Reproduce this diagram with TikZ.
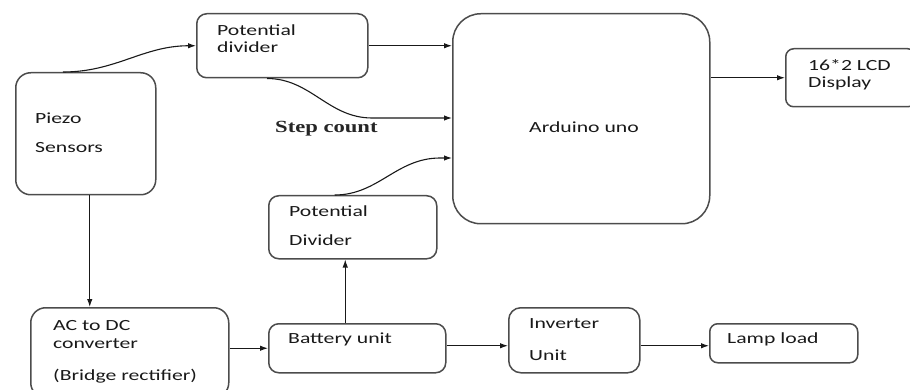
\documentclass[tikz,border=0pt]{standalone}
\usepackage{fontspec}
\setmainfont{Carlito}[FakeStretch=1.4]
\newfontfamily\stepfont{Liberation Serif}[FakeStretch=1.33]
\usepackage{tikz}
\usetikzlibrary{arrows,arrows.meta}

\begin{document}
\begin{tikzpicture}[>={Latex[length=8pt,width=5.5pt]}, x=1pt, y=-1pt,
	blk/.style={draw=black!70, line width=1.5pt, inner sep=0pt, anchor=north west},
	lbl/.style={anchor=base west, inner sep=0pt, align=left, text=black!90, font=\fontsize{15.5}{17.5}\selectfont},
	arr/.style={->, line width=1.1pt, black!90}]
%		\draw [help lines] (0,0) grid (910,390);
		\useasboundingbox (0,0) rectangle (910,390);
		%Blocchi
		\node [blk, rounded corners=10pt, minimum width=171pt, minimum height=64pt] (pdtop) at (196,13) {};
		\node [blk, rounded corners=15pt, minimum width=140pt, minimum height=122pt] (piezo) at (15,72) {};
		\node [blk, rounded corners=28pt, minimum width=257pt, minimum height=210pt] (arduino) at (452,13) {};
		\node [blk, rounded corners=8pt, minimum width=130pt, minimum height=58pt] (lcd) at (785,48) {};
		\node [blk, rounded corners=10pt, minimum width=168pt, minimum height=63pt] (pdlow) at (268,195) {};
		\node [blk, rounded corners=15pt, minimum width=198pt, minimum height=90pt] (acdc) at (30,307) {};
		\node [blk, rounded corners=10pt, minimum width=177pt, minimum height=49pt] (battery) at (268,323) {};
		\node [blk, rounded corners=12pt, minimum width=131pt, minimum height=65pt] (inverter) at (508,307) {};
		\node [blk, rounded corners=8pt, minimum width=148pt, minimum height=39pt] (lamp) at (709,323) {};
		%Testi (base = ultima riga)
		\node [lbl] (pdtoptxt) at (217,53) {Potential\\divider};
		\node [lbl] (piezotxt) at (35,153) {Piezo\\[11.5pt]Sensors};
		\node [lbl] (arduinotxt) at (529,133) {Arduino uno};
		\node [lbl] (lcdtxt) at (808,88) {16*2 LCD\\Display};
		\node [lbl] (pdlowtxt) at (289,245) {Potential\\[11.5pt]Divider};
		\node [lbl] (acdctxt) at (53,380) {AC to DC\\converter\\[14.5pt](Bridge rectifier)};
		\node [lbl] (batterytxt) at (288,343) {Battery unit};
		\node [lbl] (invertertxt) at (529,360) {Inverter\\[14.5pt]Unit};
		\node [lbl] (lamptxt) at (727,343) {Lamp load};
		\node [anchor=base west, inner sep=0pt, text=black!85, font=\stepfont\bfseries\fontsize{17}{20}\selectfont] (steptxt) at (275,133) {Step count};
		%Frecce
		\coordinate (sc) at (372,118);
		\coordinate (bt) at (440,158);
		\draw [arr] ([xshift=48pt]piezo.north west) to[out=0,in=180] (pdtop.west);
		\draw [arr] (pdtop.east) -- (pdtop.east -| arduino.west);
		\draw [arr] ([xshift=71pt]pdtop.south west) to[out=0,in=180] (sc) -- (sc -| arduino.west);
		\draw [arr] ([xshift=-18pt]pdlow.north) to[out=0,in=180] (bt) -- (bt -| arduino.west);
		\draw [arr] (arduino.east |- lcd.west) -- (lcd.west);
		\draw [arr] ([xshift=4pt]piezo.south) -- ([xshift=4pt]piezo.south |- acdc.north);
		\draw [arr] (acdc.east |- battery.west) -- (battery.west);
		\draw [arr] ([xshift=-12pt]battery.north) -- ([xshift=-12pt]battery.north |- pdlow.south);
		\draw [arr] ([yshift=2.5pt]battery.east) -- ([yshift=2.5pt]battery.east -| inverter.west);
		\draw [arr] ([yshift=-2.5pt]lamp.west -| inverter.east) -- ([yshift=-2.5pt]lamp.west);
\end{tikzpicture}
\end{document}
